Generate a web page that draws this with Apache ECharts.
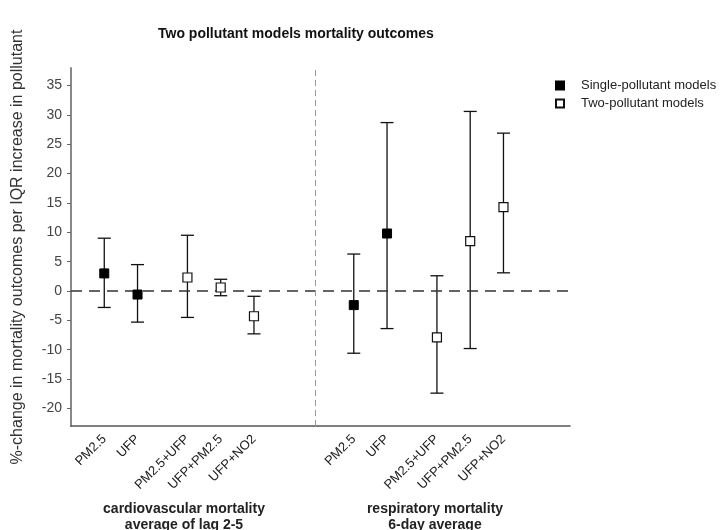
<!DOCTYPE html>
<html>
<head>
<meta charset="utf-8">
<title>Two pollutant models mortality outcomes</title>
<script src="https://cdn.jsdelivr.net/npm/echarts@6/dist/echarts.min.js"></script>
<style>
  html, body { margin: 0; padding: 0; background: #ffffff; }
  #chart { width: 721px; height: 530px; }
</style>
</head>
<body>
<div id="chart"></div>
<script>
// Pollutant models shown in each outcome block
const categories = ['PM2.5', 'UFP', 'PM2.5+UFP', 'UFP+PM2.5', 'UFP+NO2'];
const modelType = ['single', 'single', 'two', 'two', 'two'];

// Cardiovascular mortality, average of lag 2-5 (% change, 95% CI)
const cardioEst  = [3.0, -0.6, 2.3, 0.6, -4.3];
const cardioLow  = [-2.8, -5.3, -4.5, -0.8, -7.3];
const cardioHigh = [9.0, 4.5, 9.5, 2.0, -0.9];

// Respiratory mortality, 6-day average (% change, 95% CI)
const respEst  = [-2.4, 9.8, -7.9, 8.5, 14.3];
const respLow  = [-10.6, -6.4, -17.4, -9.8, 3.1];
const respHigh = [6.3, 28.7, 2.6, 30.6, 26.9];

// Y tick labels
const yTicks = [-20, -15, -10, -5, 0, 5, 10, 15, 20, 25, 30, 35];

// Slot layout along the x axis (gaps separate the two outcome blocks)
const cardioSlots = [2, 4, 7, 9, 11];
const respSlots = [17, 19, 22, 24, 26];
const dividerSlot = 14.7;

const FONT = '"Liberation Sans", Arial, Helvetica, sans-serif';

const slotLabel = {};
cardioSlots.forEach((s, i) => { slotLabel[s] = categories[i]; });
respSlots.forEach((s, i) => { slotLabel[s] = categories[i]; });

const singlePts = [], twoPts = [], bars = [];
function addBlock(slots, est, low, high) {
  slots.forEach((s, i) => {
    (modelType[i] === 'single' ? singlePts : twoPts).push([s, est[i]]);
    bars.push([s, low[i], high[i]]);
  });
}
addBlock(cardioSlots, cardioEst, cardioLow, cardioHigh);
addBlock(respSlots, respEst, respLow, respHigh);

const chart = echarts.init(document.getElementById('chart'), null, { renderer: 'canvas' });

chart.setOption({
  backgroundColor: '#ffffff',
  animation: false,
  textStyle: { fontFamily: FONT },
  title: [
    {
      text: 'Two pollutant models mortality outcomes',
      left: 153, top: 22,
      textStyle: { fontFamily: FONT, fontSize: 14, fontWeight: 'bold', color: '#111' }
    },
    {
      text: 'cardiovascular mortality\naverage of lag 2-5',
      left: 179, top: 496, textAlign: 'center',
      textStyle: { fontFamily: FONT, fontSize: 14, fontWeight: 'bold', color: '#222', lineHeight: 16 }
    },
    {
      text: 'respiratory mortality\n6-day average',
      left: 430, top: 496, textAlign: 'center',
      textStyle: { fontFamily: FONT, fontSize: 14, fontWeight: 'bold', color: '#222', lineHeight: 16 }
    }
  ],
  legend: {
    orient: 'vertical',
    left: 550, top: 74,
    itemWidth: 8, itemHeight: 8, itemGap: 5,
    data: [
      { name: 'Single-pollutant models', icon: 'rect' },
      { name: 'Two-pollutant models', icon: 'rect' }
    ],
    textStyle: { fontFamily: FONT, fontSize: 13, color: '#222', padding: [0, 0, 0, 12] }
  },
  grid: { left: 71, right: 151, top: 68, bottom: 104 },
  xAxis: {
    type: 'value',
    min: 0, max: 30, interval: 1,
    axisLine: { show: true, onZero: false, lineStyle: { color: '#555', width: 1.5 } },
    axisTick: { show: false },
    splitLine: { show: false },
    axisLabel: {
      rotate: 45, margin: 11, fontSize: 13, color: '#222', fontFamily: FONT,
      showMinLabel: true, showMaxLabel: true,
      formatter: v => slotLabel[v] || ''
    }
  },
  yAxis: {
    type: 'value',
    min: -23, max: 38,
    name: '%-change in mortality outcomes per IQR increase in pollutant',
    nameLocation: 'middle', nameRotate: 90, nameGap: 45,
    nameTextStyle: { fontFamily: FONT, fontSize: 16, color: '#333' },
    axisLine: { show: true, onZero: false, lineStyle: { color: '#888', width: 2 } },
    axisTick: { show: true, length: 4, lineStyle: { color: '#666' }, customValues: yTicks },
    axisLabel: { fontSize: 14, color: '#444', margin: 9, fontFamily: FONT, customValues: yTicks },
    splitLine: { show: false }
  },
  series: [
    {
      // confidence intervals with end caps
      type: 'custom',
      name: 'ci',
      data: bars,
      z: 2,
      encode: { x: 0, y: [1, 2] },
      renderItem: (params, api) => {
        const x = api.value(0);
        const lo = api.coord([x, api.value(1)]);
        const hi = api.coord([x, api.value(2)]);
        const half = 6.5;
        const st = { stroke: '#111', lineWidth: 1.3 };
        return {
          type: 'group',
          children: [
            { type: 'line', shape: { x1: lo[0], y1: lo[1], x2: hi[0], y2: hi[1] }, style: st },
            { type: 'line', shape: { x1: lo[0] - half, y1: lo[1], x2: lo[0] + half, y2: lo[1] }, style: st },
            { type: 'line', shape: { x1: hi[0] - half, y1: hi[1], x2: hi[0] + half, y2: hi[1] }, style: st }
          ]
        };
      },
      markLine: {
        silent: true,
        symbol: 'none',
        label: { show: false },
        data: [
          { yAxis: 0, lineStyle: { color: '#333', width: 1.5, type: [11, 7] } },
          { xAxis: dividerSlot, lineStyle: { color: '#999', width: 1, type: [6, 4] } }
        ]
      }
    },
    {
      type: 'scatter',
      name: 'Single-pollutant models',
      data: singlePts,
      symbol: 'rect',
      symbolSize: 9,
      z: 5,
      itemStyle: { color: '#000', borderColor: '#000', borderWidth: 1, opacity: 1 }
    },
    {
      type: 'scatter',
      name: 'Two-pollutant models',
      data: twoPts,
      symbol: 'rect',
      symbolSize: 9,
      z: 5,
      itemStyle: { color: '#fff', borderColor: '#111', borderWidth: 1.2, opacity: 1 }
    }
  ]
});
</script>
</body>
</html>
